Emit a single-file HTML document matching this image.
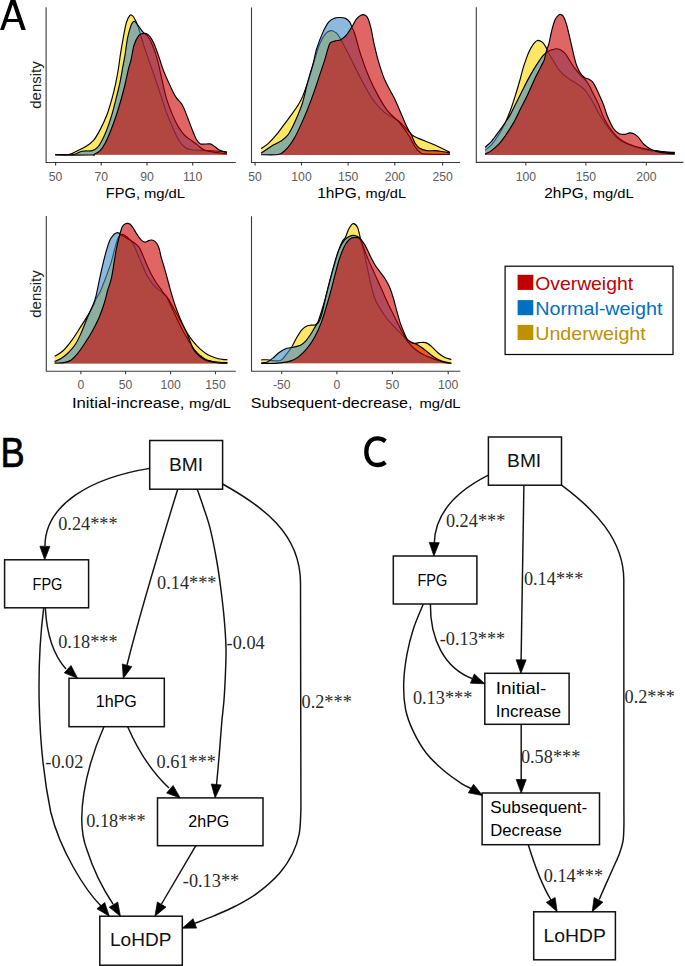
<!DOCTYPE html>
<html><head><meta charset="utf-8"><style>
html,body{margin:0;padding:0;background:#fff;}
svg{display:block}
text{font-family:"Liberation Sans",sans-serif;}
.tk{font-size:12.2px;fill:#5c5c5c;text-anchor:middle}
.xl{fill:#000}
.xa{font-size:15.2px}
.xb{font-size:12.3px}
.dn{font-size:15px;fill:#222}
.lg{font-size:18.5px}
.pl{font-size:42.5px;fill:#000}
.el{font-family:"Liberation Serif",serif;font-size:18.3px;fill:#2a2a2a}
.na{font-size:18.5px;fill:#111}
.nc{font-size:16.5px;fill:#000}
</style></head><body>
<svg width="685" height="966" viewBox="0 0 685 966">
<rect width="685" height="966" fill="#fff"/>
<path d="M55.18,154.45 C57.42,154.45 65.06,154.99 68.61,154.45 C72.17,153.92 73.63,152.55 76.50,151.24 C79.37,149.93 82.97,148.42 85.84,146.57 C88.71,144.72 91.34,142.97 93.72,140.15 C96.11,137.32 97.96,133.82 100.15,129.64 C102.34,125.45 104.87,120.29 106.86,115.04 C108.86,109.78 110.61,103.55 112.12,98.10 C113.63,92.65 114.84,87.40 115.91,82.34 C116.98,77.27 117.66,73.19 118.54,67.74 C119.42,62.29 119.90,57.03 121.17,49.64 C122.43,42.24 124.67,29.05 126.13,23.36 C127.59,17.66 128.81,16.69 129.93,15.47 C131.05,14.26 131.87,15.13 132.85,16.06 C133.82,16.98 134.89,19.22 135.77,21.02 C136.64,22.82 137.37,24.82 138.10,26.86 C138.83,28.91 139.27,30.41 140.15,33.28 C141.02,36.16 142.04,39.95 143.36,44.09 C144.67,48.22 146.23,52.90 148.03,58.10 C149.83,63.31 152.12,69.39 154.16,75.33 C156.20,81.27 158.25,87.54 160.29,93.72 C162.34,99.90 164.33,106.72 166.42,112.41 C168.52,118.10 170.75,123.21 172.85,127.88 C174.94,132.55 176.93,137.18 178.98,140.44 C181.02,143.70 183.02,145.89 185.11,147.45 C187.20,149.00 188.95,149.29 191.53,149.78 C194.11,150.27 196.64,150.17 200.58,150.36 C204.53,150.56 210.80,150.71 215.18,150.95 C219.56,151.19 224.91,151.68 226.86,151.82 L226.86,154.80 L55.18,154.80 Z" fill="rgb(255,215,0)" fill-opacity="0.6" stroke="none"/>
<path d="M55.18,154.45 C57.42,154.45 65.06,154.99 68.61,154.45 C72.17,153.92 73.63,152.55 76.50,151.24 C79.37,149.93 82.97,148.42 85.84,146.57 C88.71,144.72 91.34,142.97 93.72,140.15 C96.11,137.32 97.96,133.82 100.15,129.64 C102.34,125.45 104.87,120.29 106.86,115.04 C108.86,109.78 110.61,103.55 112.12,98.10 C113.63,92.65 114.84,87.40 115.91,82.34 C116.98,77.27 117.66,73.19 118.54,67.74 C119.42,62.29 119.90,57.03 121.17,49.64 C122.43,42.24 124.67,29.05 126.13,23.36 C127.59,17.66 128.81,16.69 129.93,15.47 C131.05,14.26 131.87,15.13 132.85,16.06 C133.82,16.98 134.89,19.22 135.77,21.02 C136.64,22.82 137.37,24.82 138.10,26.86 C138.83,28.91 139.27,30.41 140.15,33.28 C141.02,36.16 142.04,39.95 143.36,44.09 C144.67,48.22 146.23,52.90 148.03,58.10 C149.83,63.31 152.12,69.39 154.16,75.33 C156.20,81.27 158.25,87.54 160.29,93.72 C162.34,99.90 164.33,106.72 166.42,112.41 C168.52,118.10 170.75,123.21 172.85,127.88 C174.94,132.55 176.93,137.18 178.98,140.44 C181.02,143.70 183.02,145.89 185.11,147.45 C187.20,149.00 188.95,149.29 191.53,149.78 C194.11,150.27 196.64,150.17 200.58,150.36 C204.53,150.56 210.80,150.71 215.18,150.95 C219.56,151.19 224.91,151.68 226.86,151.82" fill="none" stroke="#000" stroke-width="1.15" stroke-linejoin="round"/>
<path d="M55.18,154.74 C58.30,154.70 69.44,155.04 73.87,154.45 C78.30,153.87 78.69,151.87 81.75,151.24 C84.82,150.61 89.64,151.29 92.26,150.66 C94.89,150.02 95.96,149.00 97.52,147.45 C99.08,145.89 100.05,144.28 101.61,141.31 C103.16,138.35 105.11,134.21 106.86,129.64 C108.61,125.06 110.61,118.93 112.12,113.87 C113.63,108.81 114.60,104.53 115.91,99.27 C117.23,94.01 118.88,87.59 120.00,82.34 C121.12,77.08 121.80,72.21 122.63,67.74 C123.45,63.26 124.14,60.44 124.96,55.47 C125.79,50.51 126.67,42.73 127.59,37.96 C128.52,33.19 129.64,29.49 130.51,26.86 C131.39,24.23 132.12,23.07 132.85,22.19 C133.58,21.31 133.82,20.78 134.89,21.61 C135.96,22.43 137.86,25.35 139.27,27.15 C140.68,28.95 141.90,30.85 143.36,32.41 C144.82,33.97 146.47,34.26 148.03,36.50 C149.59,38.73 151.14,42.00 152.70,45.84 C154.26,49.68 155.82,53.87 157.37,59.56 C158.93,65.26 160.54,73.53 162.04,80.00 C163.55,86.47 164.62,92.46 166.42,98.39 C168.22,104.33 170.75,110.71 172.85,115.62 C174.94,120.54 176.93,124.53 178.98,127.88 C181.02,131.24 183.02,133.67 185.11,135.77 C187.20,137.86 189.44,138.88 191.53,140.44 C193.63,142.00 195.62,143.55 197.66,145.11 C199.71,146.67 201.22,148.61 203.80,149.78 C206.37,150.95 209.29,151.44 213.14,152.12 C216.98,152.80 224.57,153.58 226.86,153.87 L226.86,154.80 L55.18,154.80 Z" fill="rgb(65,138,200)" fill-opacity="0.6" stroke="none"/>
<path d="M55.18,154.74 C58.30,154.70 69.44,155.04 73.87,154.45 C78.30,153.87 78.69,151.87 81.75,151.24 C84.82,150.61 89.64,151.29 92.26,150.66 C94.89,150.02 95.96,149.00 97.52,147.45 C99.08,145.89 100.05,144.28 101.61,141.31 C103.16,138.35 105.11,134.21 106.86,129.64 C108.61,125.06 110.61,118.93 112.12,113.87 C113.63,108.81 114.60,104.53 115.91,99.27 C117.23,94.01 118.88,87.59 120.00,82.34 C121.12,77.08 121.80,72.21 122.63,67.74 C123.45,63.26 124.14,60.44 124.96,55.47 C125.79,50.51 126.67,42.73 127.59,37.96 C128.52,33.19 129.64,29.49 130.51,26.86 C131.39,24.23 132.12,23.07 132.85,22.19 C133.58,21.31 133.82,20.78 134.89,21.61 C135.96,22.43 137.86,25.35 139.27,27.15 C140.68,28.95 141.90,30.85 143.36,32.41 C144.82,33.97 146.47,34.26 148.03,36.50 C149.59,38.73 151.14,42.00 152.70,45.84 C154.26,49.68 155.82,53.87 157.37,59.56 C158.93,65.26 160.54,73.53 162.04,80.00 C163.55,86.47 164.62,92.46 166.42,98.39 C168.22,104.33 170.75,110.71 172.85,115.62 C174.94,120.54 176.93,124.53 178.98,127.88 C181.02,131.24 183.02,133.67 185.11,135.77 C187.20,137.86 189.44,138.88 191.53,140.44 C193.63,142.00 195.62,143.55 197.66,145.11 C199.71,146.67 201.22,148.61 203.80,149.78 C206.37,150.95 209.29,151.44 213.14,152.12 C216.98,152.80 224.57,153.58 226.86,153.87" fill="none" stroke="#000" stroke-width="1.15" stroke-linejoin="round"/>
<path d="M55.18,155.04 C61.17,155.04 84.67,155.09 91.09,155.04 C97.52,154.99 92.21,155.47 93.72,154.74 C95.23,154.01 98.20,152.65 100.15,150.66 C102.09,148.66 103.65,146.08 105.40,142.77 C107.15,139.46 108.91,135.18 110.66,130.80 C112.41,126.42 114.16,121.75 115.91,116.50 C117.66,111.24 119.61,104.77 121.17,99.27 C122.73,93.77 124.04,88.56 125.26,83.50 C126.47,78.44 127.49,72.90 128.47,68.91 C129.44,64.91 130.17,63.50 131.09,59.56 C132.02,55.62 132.75,49.25 134.01,45.26 C135.28,41.27 137.27,37.57 138.69,35.62 C140.10,33.67 141.22,33.92 142.48,33.58 C143.75,33.24 144.96,32.99 146.28,33.58 C147.59,34.16 149.05,35.33 150.36,37.08 C151.68,38.83 152.75,40.83 154.16,44.09 C155.57,47.35 157.27,52.21 158.83,56.64 C160.39,61.07 161.70,65.99 163.50,70.66 C165.30,75.33 167.59,80.29 169.64,84.67 C171.68,89.05 173.67,93.58 175.77,96.93 C177.86,100.29 180.34,101.70 182.19,104.82 C184.04,107.93 185.30,111.78 186.86,115.62 C188.42,119.46 189.98,123.99 191.53,127.88 C193.09,131.78 194.70,136.30 196.20,138.98 C197.71,141.65 198.30,143.11 200.58,143.94 C202.87,144.77 207.59,143.50 209.93,143.94 C212.26,144.38 212.94,145.50 214.60,146.57 C216.25,147.64 217.81,149.34 219.85,150.36 C221.90,151.39 225.69,152.31 226.86,152.70 L226.86,154.80 L55.18,154.80 Z" fill="rgb(204,0,0)" fill-opacity="0.6" stroke="none"/>
<path d="M55.18,155.04 C61.17,155.04 84.67,155.09 91.09,155.04 C97.52,154.99 92.21,155.47 93.72,154.74 C95.23,154.01 98.20,152.65 100.15,150.66 C102.09,148.66 103.65,146.08 105.40,142.77 C107.15,139.46 108.91,135.18 110.66,130.80 C112.41,126.42 114.16,121.75 115.91,116.50 C117.66,111.24 119.61,104.77 121.17,99.27 C122.73,93.77 124.04,88.56 125.26,83.50 C126.47,78.44 127.49,72.90 128.47,68.91 C129.44,64.91 130.17,63.50 131.09,59.56 C132.02,55.62 132.75,49.25 134.01,45.26 C135.28,41.27 137.27,37.57 138.69,35.62 C140.10,33.67 141.22,33.92 142.48,33.58 C143.75,33.24 144.96,32.99 146.28,33.58 C147.59,34.16 149.05,35.33 150.36,37.08 C151.68,38.83 152.75,40.83 154.16,44.09 C155.57,47.35 157.27,52.21 158.83,56.64 C160.39,61.07 161.70,65.99 163.50,70.66 C165.30,75.33 167.59,80.29 169.64,84.67 C171.68,89.05 173.67,93.58 175.77,96.93 C177.86,100.29 180.34,101.70 182.19,104.82 C184.04,107.93 185.30,111.78 186.86,115.62 C188.42,119.46 189.98,123.99 191.53,127.88 C193.09,131.78 194.70,136.30 196.20,138.98 C197.71,141.65 198.30,143.11 200.58,143.94 C202.87,144.77 207.59,143.50 209.93,143.94 C212.26,144.38 212.94,145.50 214.60,146.57 C216.25,147.64 217.81,149.34 219.85,150.36 C221.90,151.39 225.69,152.31 226.86,152.70" fill="none" stroke="#000" stroke-width="1.15" stroke-linejoin="round"/>
<path d="M46.1,7.3 V162.5 H235.8" stroke="#3a3a3a" stroke-width="1.1" fill="none"/><path d="M55.6,162.5 v3" stroke="#3a3a3a" stroke-width="1.1" fill="none"/><text x="55.6" y="180.6" class="tk">50</text><path d="M101.2,162.5 v3" stroke="#3a3a3a" stroke-width="1.1" fill="none"/><text x="101.2" y="180.6" class="tk">70</text><path d="M147.0,162.5 v3" stroke="#3a3a3a" stroke-width="1.1" fill="none"/><text x="147.0" y="180.6" class="tk">90</text><path d="M192.7,162.5 v3" stroke="#3a3a3a" stroke-width="1.1" fill="none"/><text x="192.7" y="180.6" class="tk">110</text>
<path d="M261.09,148.61 C262.31,147.74 265.86,145.64 268.39,143.36 C270.92,141.07 273.65,138.05 276.28,134.89 C278.91,131.73 281.53,127.88 284.16,124.38 C286.79,120.88 289.66,117.18 292.04,113.87 C294.43,110.56 296.72,107.40 298.47,104.53 C300.22,101.65 301.24,99.66 302.55,96.64 C303.87,93.63 305.28,89.39 306.35,86.42 C307.42,83.45 307.76,82.77 308.98,78.83 C310.19,74.89 311.85,68.61 313.65,62.77 C315.45,56.93 317.79,48.66 319.78,43.80 C321.78,38.93 323.77,35.77 325.62,33.58 C327.47,31.39 329.32,30.90 330.88,30.66 C332.43,30.41 333.60,31.14 334.96,32.12 C336.33,33.09 336.67,32.60 339.05,36.50 C341.44,40.39 345.62,48.42 349.27,55.47 C352.92,62.53 357.06,71.53 360.95,78.83 C364.84,86.13 368.73,93.67 372.63,99.27 C376.52,104.87 379.98,108.81 384.31,112.41 C388.64,116.01 394.09,117.23 398.61,120.88 C403.14,124.53 408.15,131.39 411.46,134.31 C414.77,137.23 415.35,136.93 418.47,138.39 C421.58,139.85 426.45,141.51 430.15,143.07 C433.84,144.62 437.35,146.18 440.66,147.74 C443.97,149.29 448.44,151.63 450.00,152.41 L450.00,155.10 L261.09,155.10 Z" fill="rgb(255,215,0)" fill-opacity="0.6" stroke="none"/>
<path d="M261.09,148.61 C262.31,147.74 265.86,145.64 268.39,143.36 C270.92,141.07 273.65,138.05 276.28,134.89 C278.91,131.73 281.53,127.88 284.16,124.38 C286.79,120.88 289.66,117.18 292.04,113.87 C294.43,110.56 296.72,107.40 298.47,104.53 C300.22,101.65 301.24,99.66 302.55,96.64 C303.87,93.63 305.28,89.39 306.35,86.42 C307.42,83.45 307.76,82.77 308.98,78.83 C310.19,74.89 311.85,68.61 313.65,62.77 C315.45,56.93 317.79,48.66 319.78,43.80 C321.78,38.93 323.77,35.77 325.62,33.58 C327.47,31.39 329.32,30.90 330.88,30.66 C332.43,30.41 333.60,31.14 334.96,32.12 C336.33,33.09 336.67,32.60 339.05,36.50 C341.44,40.39 345.62,48.42 349.27,55.47 C352.92,62.53 357.06,71.53 360.95,78.83 C364.84,86.13 368.73,93.67 372.63,99.27 C376.52,104.87 379.98,108.81 384.31,112.41 C388.64,116.01 394.09,117.23 398.61,120.88 C403.14,124.53 408.15,131.39 411.46,134.31 C414.77,137.23 415.35,136.93 418.47,138.39 C421.58,139.85 426.45,141.51 430.15,143.07 C433.84,144.62 437.35,146.18 440.66,147.74 C443.97,149.29 448.44,151.63 450.00,152.41" fill="none" stroke="#000" stroke-width="1.15" stroke-linejoin="round"/>
<path d="M261.09,153.28 C262.07,152.60 264.84,150.61 266.93,149.20 C269.03,147.79 271.22,146.23 273.65,144.82 C276.08,143.41 279.15,142.38 281.53,140.73 C283.92,139.08 286.01,137.42 287.96,134.89 C289.90,132.36 291.56,128.86 293.21,125.55 C294.87,122.24 296.42,118.54 297.88,115.04 C299.34,111.53 300.75,108.22 301.97,104.53 C303.19,100.83 304.40,95.91 305.18,92.85 C305.96,89.78 305.86,89.20 306.64,86.13 C307.42,83.07 308.78,78.15 309.85,74.45 C310.92,70.75 311.90,68.32 313.07,63.94 C314.23,59.56 315.21,53.48 316.86,48.18 C318.52,42.87 321.00,36.50 322.99,32.12 C324.99,27.74 326.89,24.23 328.83,21.90 C330.78,19.56 332.82,18.83 334.67,18.10 C336.52,17.37 338.13,17.47 339.93,17.52 C341.73,17.57 343.87,17.66 345.47,18.39 C347.08,19.12 348.44,20.34 349.56,21.90 C350.68,23.45 351.27,25.55 352.19,27.74 C353.11,29.93 353.65,30.41 355.11,35.04 C356.57,39.66 358.52,48.18 360.95,55.47 C363.38,62.77 366.79,72.02 369.71,78.83 C372.63,85.64 375.55,91.09 378.47,96.35 C381.39,101.61 384.31,106.57 387.23,110.36 C390.15,114.16 393.70,116.79 395.99,119.12 C398.27,121.46 398.76,121.56 400.95,124.38 C403.14,127.20 406.79,132.36 409.12,136.06 C411.46,139.76 413.02,143.75 414.96,146.57 C416.91,149.39 418.86,151.73 420.80,152.99 C422.75,154.26 421.78,153.92 426.64,154.16 C431.51,154.40 446.11,154.40 450.00,154.45 L450.00,155.10 L261.09,155.10 Z" fill="rgb(65,138,200)" fill-opacity="0.6" stroke="none"/>
<path d="M261.09,153.28 C262.07,152.60 264.84,150.61 266.93,149.20 C269.03,147.79 271.22,146.23 273.65,144.82 C276.08,143.41 279.15,142.38 281.53,140.73 C283.92,139.08 286.01,137.42 287.96,134.89 C289.90,132.36 291.56,128.86 293.21,125.55 C294.87,122.24 296.42,118.54 297.88,115.04 C299.34,111.53 300.75,108.22 301.97,104.53 C303.19,100.83 304.40,95.91 305.18,92.85 C305.96,89.78 305.86,89.20 306.64,86.13 C307.42,83.07 308.78,78.15 309.85,74.45 C310.92,70.75 311.90,68.32 313.07,63.94 C314.23,59.56 315.21,53.48 316.86,48.18 C318.52,42.87 321.00,36.50 322.99,32.12 C324.99,27.74 326.89,24.23 328.83,21.90 C330.78,19.56 332.82,18.83 334.67,18.10 C336.52,17.37 338.13,17.47 339.93,17.52 C341.73,17.57 343.87,17.66 345.47,18.39 C347.08,19.12 348.44,20.34 349.56,21.90 C350.68,23.45 351.27,25.55 352.19,27.74 C353.11,29.93 353.65,30.41 355.11,35.04 C356.57,39.66 358.52,48.18 360.95,55.47 C363.38,62.77 366.79,72.02 369.71,78.83 C372.63,85.64 375.55,91.09 378.47,96.35 C381.39,101.61 384.31,106.57 387.23,110.36 C390.15,114.16 393.70,116.79 395.99,119.12 C398.27,121.46 398.76,121.56 400.95,124.38 C403.14,127.20 406.79,132.36 409.12,136.06 C411.46,139.76 413.02,143.75 414.96,146.57 C416.91,149.39 418.86,151.73 420.80,152.99 C422.75,154.26 421.78,153.92 426.64,154.16 C431.51,154.40 446.11,154.40 450.00,154.45" fill="none" stroke="#000" stroke-width="1.15" stroke-linejoin="round"/>
<path d="M261.09,154.74 C263.63,154.74 272.87,154.99 276.28,154.74 C279.68,154.50 279.59,154.50 281.53,153.28 C283.48,152.07 285.77,150.07 287.96,147.45 C290.15,144.82 292.48,141.36 294.67,137.52 C296.86,133.67 298.91,129.20 301.09,124.38 C303.28,119.56 305.62,114.11 307.81,108.61 C310.00,103.11 312.29,96.89 314.23,91.39 C316.18,85.89 317.74,80.88 319.49,75.62 C321.24,70.36 323.38,64.18 324.74,59.85 C326.11,55.52 326.74,52.46 327.66,49.64 C328.59,46.81 329.03,44.38 330.29,42.92 C331.56,41.46 333.50,41.41 335.26,40.88 C337.01,40.34 338.95,40.68 340.80,39.71 C342.65,38.73 344.45,37.27 346.35,35.04 C348.25,32.80 350.49,28.95 352.19,26.28 C353.89,23.60 355.11,20.83 356.57,18.98 C358.03,17.13 359.49,15.82 360.95,15.18 C362.41,14.55 364.11,14.55 365.33,15.18 C366.55,15.82 367.27,16.64 368.25,18.98 C369.22,21.31 370.19,25.06 371.17,29.20 C372.14,33.33 372.87,38.44 374.09,43.80 C375.30,49.15 376.76,55.47 378.47,61.31 C380.17,67.15 382.36,73.97 384.31,78.83 C386.25,83.70 388.35,87.01 390.15,90.51 C391.95,94.01 393.31,96.06 395.11,99.85 C396.91,103.65 399.00,108.81 400.95,113.28 C402.90,117.76 405.04,123.11 406.79,126.72 C408.54,130.32 410.10,132.17 411.46,134.89 C412.82,137.62 413.60,140.83 414.96,143.07 C416.33,145.30 417.69,147.06 419.64,148.32 C421.58,149.59 424.11,150.27 426.64,150.66 C429.17,151.05 432.48,150.56 434.82,150.66 C437.15,150.75 438.13,150.85 440.66,151.24 C443.19,151.63 448.44,152.70 450.00,152.99 L450.00,155.10 L261.09,155.10 Z" fill="rgb(204,0,0)" fill-opacity="0.6" stroke="none"/>
<path d="M261.09,154.74 C263.63,154.74 272.87,154.99 276.28,154.74 C279.68,154.50 279.59,154.50 281.53,153.28 C283.48,152.07 285.77,150.07 287.96,147.45 C290.15,144.82 292.48,141.36 294.67,137.52 C296.86,133.67 298.91,129.20 301.09,124.38 C303.28,119.56 305.62,114.11 307.81,108.61 C310.00,103.11 312.29,96.89 314.23,91.39 C316.18,85.89 317.74,80.88 319.49,75.62 C321.24,70.36 323.38,64.18 324.74,59.85 C326.11,55.52 326.74,52.46 327.66,49.64 C328.59,46.81 329.03,44.38 330.29,42.92 C331.56,41.46 333.50,41.41 335.26,40.88 C337.01,40.34 338.95,40.68 340.80,39.71 C342.65,38.73 344.45,37.27 346.35,35.04 C348.25,32.80 350.49,28.95 352.19,26.28 C353.89,23.60 355.11,20.83 356.57,18.98 C358.03,17.13 359.49,15.82 360.95,15.18 C362.41,14.55 364.11,14.55 365.33,15.18 C366.55,15.82 367.27,16.64 368.25,18.98 C369.22,21.31 370.19,25.06 371.17,29.20 C372.14,33.33 372.87,38.44 374.09,43.80 C375.30,49.15 376.76,55.47 378.47,61.31 C380.17,67.15 382.36,73.97 384.31,78.83 C386.25,83.70 388.35,87.01 390.15,90.51 C391.95,94.01 393.31,96.06 395.11,99.85 C396.91,103.65 399.00,108.81 400.95,113.28 C402.90,117.76 405.04,123.11 406.79,126.72 C408.54,130.32 410.10,132.17 411.46,134.89 C412.82,137.62 413.60,140.83 414.96,143.07 C416.33,145.30 417.69,147.06 419.64,148.32 C421.58,149.59 424.11,150.27 426.64,150.66 C429.17,151.05 432.48,150.56 434.82,150.66 C437.15,150.75 438.13,150.85 440.66,151.24 C443.19,151.63 448.44,152.70 450.00,152.99" fill="none" stroke="#000" stroke-width="1.15" stroke-linejoin="round"/>
<path d="M251.5,7.4 V162.5 H460.1" stroke="#3a3a3a" stroke-width="1.1" fill="none"/><path d="M255.1,162.5 v3" stroke="#3a3a3a" stroke-width="1.1" fill="none"/><text x="255.1" y="180.6" class="tk">50</text><path d="M301.5,162.5 v3" stroke="#3a3a3a" stroke-width="1.1" fill="none"/><text x="301.5" y="180.6" class="tk">100</text><path d="M348.1,162.5 v3" stroke="#3a3a3a" stroke-width="1.1" fill="none"/><text x="348.1" y="180.6" class="tk">150</text><path d="M394.8,162.5 v3" stroke="#3a3a3a" stroke-width="1.1" fill="none"/><text x="394.8" y="180.6" class="tk">200</text><path d="M442.6,162.5 v3" stroke="#3a3a3a" stroke-width="1.1" fill="none"/><text x="442.6" y="180.6" class="tk">250</text>
<path d="M485.00,150.36 C486.12,149.39 489.38,147.20 491.72,144.53 C494.05,141.85 496.73,138.00 499.01,134.31 C501.30,130.61 503.49,126.47 505.44,122.34 C507.38,118.20 509.09,113.82 510.69,109.49 C512.30,105.16 513.61,100.97 515.07,96.35 C516.53,91.73 518.14,86.37 519.45,81.75 C520.77,77.13 521.89,72.26 522.96,68.61 C524.03,64.96 524.90,62.58 525.88,59.85 C526.85,57.13 527.58,54.84 528.80,52.26 C530.01,49.68 531.86,46.28 533.18,44.38 C534.49,42.48 535.66,41.51 536.68,40.88 C537.70,40.24 538.28,40.29 539.31,40.58 C540.33,40.88 541.64,41.41 542.81,42.63 C543.98,43.84 545.44,46.28 546.31,47.88 C547.19,49.49 547.04,50.36 548.07,52.26 C549.09,54.16 550.84,56.64 552.45,59.27 C554.05,61.90 555.95,65.55 557.70,68.03 C559.45,70.51 560.91,72.26 562.96,74.16 C565.00,76.06 567.63,77.81 569.96,79.42 C572.30,81.02 574.64,82.19 576.97,83.80 C579.31,85.40 581.93,87.01 583.98,89.05 C586.02,91.09 587.48,93.38 589.23,96.06 C590.99,98.73 592.79,102.04 594.49,105.11 C596.19,108.18 597.26,110.80 599.45,114.45 C601.64,118.10 604.81,123.21 607.63,127.01 C610.45,130.80 613.47,134.55 616.39,137.23 C619.31,139.90 621.74,141.36 625.15,143.07 C628.55,144.77 632.93,146.23 636.82,147.45 C640.72,148.66 644.61,149.64 648.50,150.36 C652.40,151.09 655.80,151.48 660.18,151.82 C664.56,152.17 672.35,152.31 674.78,152.41 L674.78,155.00 L485.00,155.00 Z" fill="rgb(255,215,0)" fill-opacity="0.6" stroke="none"/>
<path d="M485.00,150.36 C486.12,149.39 489.38,147.20 491.72,144.53 C494.05,141.85 496.73,138.00 499.01,134.31 C501.30,130.61 503.49,126.47 505.44,122.34 C507.38,118.20 509.09,113.82 510.69,109.49 C512.30,105.16 513.61,100.97 515.07,96.35 C516.53,91.73 518.14,86.37 519.45,81.75 C520.77,77.13 521.89,72.26 522.96,68.61 C524.03,64.96 524.90,62.58 525.88,59.85 C526.85,57.13 527.58,54.84 528.80,52.26 C530.01,49.68 531.86,46.28 533.18,44.38 C534.49,42.48 535.66,41.51 536.68,40.88 C537.70,40.24 538.28,40.29 539.31,40.58 C540.33,40.88 541.64,41.41 542.81,42.63 C543.98,43.84 545.44,46.28 546.31,47.88 C547.19,49.49 547.04,50.36 548.07,52.26 C549.09,54.16 550.84,56.64 552.45,59.27 C554.05,61.90 555.95,65.55 557.70,68.03 C559.45,70.51 560.91,72.26 562.96,74.16 C565.00,76.06 567.63,77.81 569.96,79.42 C572.30,81.02 574.64,82.19 576.97,83.80 C579.31,85.40 581.93,87.01 583.98,89.05 C586.02,91.09 587.48,93.38 589.23,96.06 C590.99,98.73 592.79,102.04 594.49,105.11 C596.19,108.18 597.26,110.80 599.45,114.45 C601.64,118.10 604.81,123.21 607.63,127.01 C610.45,130.80 613.47,134.55 616.39,137.23 C619.31,139.90 621.74,141.36 625.15,143.07 C628.55,144.77 632.93,146.23 636.82,147.45 C640.72,148.66 644.61,149.64 648.50,150.36 C652.40,151.09 655.80,151.48 660.18,151.82 C664.56,152.17 672.35,152.31 674.78,152.41" fill="none" stroke="#000" stroke-width="1.15" stroke-linejoin="round"/>
<path d="M485.00,147.45 C486.12,146.37 489.38,143.70 491.72,141.02 C494.05,138.35 496.73,134.50 499.01,131.39 C501.30,128.27 503.49,125.26 505.44,122.34 C507.38,119.42 508.84,117.23 510.69,113.87 C512.54,110.51 514.59,106.08 516.53,102.19 C518.48,98.30 520.43,94.36 522.37,90.51 C524.32,86.67 526.27,82.73 528.21,79.12 C530.16,75.52 532.10,72.12 534.05,68.91 C536.00,65.69 538.28,62.19 539.89,59.85 C541.50,57.52 542.32,56.30 543.69,54.89 C545.05,53.48 546.61,52.26 548.07,51.39 C549.53,50.51 550.99,50.07 552.45,49.64 C553.91,49.20 555.36,48.66 556.82,48.76 C558.28,48.86 559.74,49.34 561.20,50.22 C562.66,51.09 564.12,52.21 565.58,54.01 C567.04,55.82 568.36,58.54 569.96,61.02 C571.57,63.50 573.47,66.57 575.22,68.91 C576.97,71.24 578.72,73.14 580.47,75.04 C582.23,76.93 584.27,78.54 585.73,80.29 C587.19,82.04 588.07,83.50 589.23,85.55 C590.40,87.59 591.57,90.22 592.74,92.55 C593.91,94.89 595.22,97.47 596.24,99.56 C597.26,101.65 597.46,101.75 598.87,105.11 C600.28,108.47 602.27,115.09 604.71,119.71 C607.14,124.33 610.55,129.34 613.47,132.85 C616.39,136.35 618.82,138.54 622.23,140.73 C625.63,142.92 629.53,144.53 633.91,145.99 C638.28,147.45 644.12,148.61 648.50,149.49 C652.88,150.36 655.80,150.66 660.18,151.24 C664.56,151.82 672.35,152.70 674.78,152.99 L674.78,155.00 L485.00,155.00 Z" fill="rgb(65,138,200)" fill-opacity="0.6" stroke="none"/>
<path d="M485.00,147.45 C486.12,146.37 489.38,143.70 491.72,141.02 C494.05,138.35 496.73,134.50 499.01,131.39 C501.30,128.27 503.49,125.26 505.44,122.34 C507.38,119.42 508.84,117.23 510.69,113.87 C512.54,110.51 514.59,106.08 516.53,102.19 C518.48,98.30 520.43,94.36 522.37,90.51 C524.32,86.67 526.27,82.73 528.21,79.12 C530.16,75.52 532.10,72.12 534.05,68.91 C536.00,65.69 538.28,62.19 539.89,59.85 C541.50,57.52 542.32,56.30 543.69,54.89 C545.05,53.48 546.61,52.26 548.07,51.39 C549.53,50.51 550.99,50.07 552.45,49.64 C553.91,49.20 555.36,48.66 556.82,48.76 C558.28,48.86 559.74,49.34 561.20,50.22 C562.66,51.09 564.12,52.21 565.58,54.01 C567.04,55.82 568.36,58.54 569.96,61.02 C571.57,63.50 573.47,66.57 575.22,68.91 C576.97,71.24 578.72,73.14 580.47,75.04 C582.23,76.93 584.27,78.54 585.73,80.29 C587.19,82.04 588.07,83.50 589.23,85.55 C590.40,87.59 591.57,90.22 592.74,92.55 C593.91,94.89 595.22,97.47 596.24,99.56 C597.26,101.65 597.46,101.75 598.87,105.11 C600.28,108.47 602.27,115.09 604.71,119.71 C607.14,124.33 610.55,129.34 613.47,132.85 C616.39,136.35 618.82,138.54 622.23,140.73 C625.63,142.92 629.53,144.53 633.91,145.99 C638.28,147.45 644.12,148.61 648.50,149.49 C652.88,150.36 655.80,150.66 660.18,151.24 C664.56,151.82 672.35,152.70 674.78,152.99" fill="none" stroke="#000" stroke-width="1.15" stroke-linejoin="round"/>
<path d="M485.00,154.16 C486.12,153.53 489.38,152.07 491.72,150.36 C494.05,148.66 496.58,146.62 499.01,143.94 C501.45,141.27 503.88,137.86 506.31,134.31 C508.75,130.75 511.18,127.01 513.61,122.63 C516.05,118.25 518.48,112.90 520.91,108.03 C523.35,103.16 525.78,98.54 528.21,93.43 C530.64,88.32 533.32,82.00 535.51,77.37 C537.70,72.75 539.89,68.61 541.35,65.69 C542.81,62.77 543.44,62.24 544.27,59.85 C545.10,57.47 545.54,54.11 546.31,51.39 C547.09,48.66 548.07,46.86 548.94,43.50 C549.82,40.15 550.55,35.18 551.57,31.24 C552.59,27.30 553.91,22.53 555.07,19.85 C556.24,17.18 557.55,16.06 558.58,15.18 C559.60,14.31 560.33,14.26 561.20,14.60 C562.08,14.94 562.96,15.62 563.83,17.23 C564.71,18.83 565.58,21.31 566.46,24.23 C567.34,27.15 568.21,31.09 569.09,34.74 C569.96,38.39 570.84,42.34 571.72,46.13 C572.59,49.93 573.47,54.16 574.34,57.52 C575.22,60.88 575.95,63.65 576.97,66.28 C577.99,68.91 579.16,71.39 580.47,73.28 C581.79,75.18 583.39,76.64 584.85,77.66 C586.31,78.69 587.92,78.69 589.23,79.42 C590.55,80.15 591.57,80.58 592.74,82.04 C593.91,83.50 595.07,85.84 596.24,88.18 C597.41,90.51 598.58,93.43 599.74,96.06 C600.91,98.69 601.93,100.49 603.25,103.94 C604.56,107.40 605.92,112.70 607.63,116.79 C609.33,120.88 611.52,125.64 613.47,128.47 C615.41,131.29 617.36,132.75 619.31,133.72 C621.25,134.70 623.44,134.45 625.15,134.31 C626.85,134.16 628.07,132.94 629.53,132.85 C630.99,132.75 632.45,132.99 633.91,133.72 C635.36,134.45 636.58,135.43 638.28,137.23 C639.99,139.03 641.93,142.48 644.12,144.53 C646.31,146.57 648.75,148.18 651.42,149.49 C654.10,150.80 656.29,151.68 660.18,152.41 C664.08,153.14 672.35,153.63 674.78,153.87 L674.78,155.00 L485.00,155.00 Z" fill="rgb(204,0,0)" fill-opacity="0.6" stroke="none"/>
<path d="M485.00,154.16 C486.12,153.53 489.38,152.07 491.72,150.36 C494.05,148.66 496.58,146.62 499.01,143.94 C501.45,141.27 503.88,137.86 506.31,134.31 C508.75,130.75 511.18,127.01 513.61,122.63 C516.05,118.25 518.48,112.90 520.91,108.03 C523.35,103.16 525.78,98.54 528.21,93.43 C530.64,88.32 533.32,82.00 535.51,77.37 C537.70,72.75 539.89,68.61 541.35,65.69 C542.81,62.77 543.44,62.24 544.27,59.85 C545.10,57.47 545.54,54.11 546.31,51.39 C547.09,48.66 548.07,46.86 548.94,43.50 C549.82,40.15 550.55,35.18 551.57,31.24 C552.59,27.30 553.91,22.53 555.07,19.85 C556.24,17.18 557.55,16.06 558.58,15.18 C559.60,14.31 560.33,14.26 561.20,14.60 C562.08,14.94 562.96,15.62 563.83,17.23 C564.71,18.83 565.58,21.31 566.46,24.23 C567.34,27.15 568.21,31.09 569.09,34.74 C569.96,38.39 570.84,42.34 571.72,46.13 C572.59,49.93 573.47,54.16 574.34,57.52 C575.22,60.88 575.95,63.65 576.97,66.28 C577.99,68.91 579.16,71.39 580.47,73.28 C581.79,75.18 583.39,76.64 584.85,77.66 C586.31,78.69 587.92,78.69 589.23,79.42 C590.55,80.15 591.57,80.58 592.74,82.04 C593.91,83.50 595.07,85.84 596.24,88.18 C597.41,90.51 598.58,93.43 599.74,96.06 C600.91,98.69 601.93,100.49 603.25,103.94 C604.56,107.40 605.92,112.70 607.63,116.79 C609.33,120.88 611.52,125.64 613.47,128.47 C615.41,131.29 617.36,132.75 619.31,133.72 C621.25,134.70 623.44,134.45 625.15,134.31 C626.85,134.16 628.07,132.94 629.53,132.85 C630.99,132.75 632.45,132.99 633.91,133.72 C635.36,134.45 636.58,135.43 638.28,137.23 C639.99,139.03 641.93,142.48 644.12,144.53 C646.31,146.57 648.75,148.18 651.42,149.49 C654.10,150.80 656.29,151.68 660.18,152.41 C664.08,153.14 672.35,153.63 674.78,153.87" fill="none" stroke="#000" stroke-width="1.15" stroke-linejoin="round"/>
<path d="M476.3,7.2 V162.4 H683.4" stroke="#3a3a3a" stroke-width="1.1" fill="none"/><path d="M525.8,162.4 v3" stroke="#3a3a3a" stroke-width="1.1" fill="none"/><text x="525.8" y="180.5" class="tk">100</text><path d="M585.9,162.4 v3" stroke="#3a3a3a" stroke-width="1.1" fill="none"/><text x="585.9" y="180.5" class="tk">150</text><path d="M646.3,162.4 v3" stroke="#3a3a3a" stroke-width="1.1" fill="none"/><text x="646.3" y="180.5" class="tk">200</text>
<path d="M54.60,356.24 C55.91,355.41 59.71,353.81 62.48,351.28 C65.26,348.75 68.32,344.95 71.24,341.06 C74.16,337.17 77.08,332.45 80.00,327.92 C82.92,323.39 86.57,317.55 88.76,313.91 C90.95,310.26 91.92,308.55 93.14,306.02 C94.36,303.49 94.94,301.01 96.06,298.72 C97.18,296.44 98.25,295.80 99.85,292.30 C101.46,288.80 103.84,282.57 105.69,277.70 C107.54,272.83 109.49,267.73 110.95,263.10 C112.41,258.48 113.38,253.86 114.45,249.96 C115.52,246.07 116.50,242.18 117.37,239.74 C118.25,237.31 118.73,236.24 119.71,235.36 C120.68,234.49 121.65,233.91 123.21,234.49 C124.77,235.07 127.35,237.26 129.05,238.87 C130.75,240.47 131.97,241.55 133.43,244.12 C134.89,246.70 136.35,250.94 137.81,254.34 C139.27,257.75 140.73,261.16 142.19,264.56 C143.65,267.97 144.87,271.62 146.57,274.78 C148.27,277.94 150.46,281.11 152.41,283.54 C154.36,285.97 156.30,287.68 158.25,289.38 C160.19,291.08 162.38,292.15 164.09,293.76 C165.79,295.36 166.42,295.75 168.47,299.01 C170.51,302.27 173.97,308.94 176.35,313.32 C178.73,317.70 180.83,321.79 182.77,325.29 C184.72,328.80 186.28,331.62 188.03,334.34 C189.78,337.07 191.29,339.21 193.28,341.64 C195.28,344.08 197.57,346.75 200.00,348.94 C202.43,351.13 205.26,353.27 207.88,354.78 C210.51,356.29 213.38,357.23 215.77,357.99 C218.15,358.75 220.24,359.04 222.19,359.34 C224.14,359.63 226.57,359.68 227.45,359.74 L227.45,363.50 L54.60,363.50 Z" fill="rgb(255,215,0)" fill-opacity="0.6" stroke="none"/>
<path d="M54.60,356.24 C55.91,355.41 59.71,353.81 62.48,351.28 C65.26,348.75 68.32,344.95 71.24,341.06 C74.16,337.17 77.08,332.45 80.00,327.92 C82.92,323.39 86.57,317.55 88.76,313.91 C90.95,310.26 91.92,308.55 93.14,306.02 C94.36,303.49 94.94,301.01 96.06,298.72 C97.18,296.44 98.25,295.80 99.85,292.30 C101.46,288.80 103.84,282.57 105.69,277.70 C107.54,272.83 109.49,267.73 110.95,263.10 C112.41,258.48 113.38,253.86 114.45,249.96 C115.52,246.07 116.50,242.18 117.37,239.74 C118.25,237.31 118.73,236.24 119.71,235.36 C120.68,234.49 121.65,233.91 123.21,234.49 C124.77,235.07 127.35,237.26 129.05,238.87 C130.75,240.47 131.97,241.55 133.43,244.12 C134.89,246.70 136.35,250.94 137.81,254.34 C139.27,257.75 140.73,261.16 142.19,264.56 C143.65,267.97 144.87,271.62 146.57,274.78 C148.27,277.94 150.46,281.11 152.41,283.54 C154.36,285.97 156.30,287.68 158.25,289.38 C160.19,291.08 162.38,292.15 164.09,293.76 C165.79,295.36 166.42,295.75 168.47,299.01 C170.51,302.27 173.97,308.94 176.35,313.32 C178.73,317.70 180.83,321.79 182.77,325.29 C184.72,328.80 186.28,331.62 188.03,334.34 C189.78,337.07 191.29,339.21 193.28,341.64 C195.28,344.08 197.57,346.75 200.00,348.94 C202.43,351.13 205.26,353.27 207.88,354.78 C210.51,356.29 213.38,357.23 215.77,357.99 C218.15,358.75 220.24,359.04 222.19,359.34 C224.14,359.63 226.57,359.68 227.45,359.74" fill="none" stroke="#000" stroke-width="1.15" stroke-linejoin="round"/>
<path d="M54.60,361.50 C55.67,361.01 58.73,360.04 61.02,358.58 C63.31,357.12 65.89,355.17 68.32,352.74 C70.75,350.30 73.43,347.38 75.62,343.98 C77.81,340.57 79.51,336.68 81.46,332.30 C83.41,327.92 85.35,322.32 87.30,317.70 C89.25,313.08 91.68,308.21 93.14,304.56 C94.60,300.91 94.94,300.28 96.06,295.80 C97.18,291.33 98.73,282.91 99.85,277.70 C100.97,272.49 101.65,269.18 102.77,264.56 C103.89,259.94 105.35,254.10 106.57,249.96 C107.79,245.83 108.86,242.32 110.07,239.74 C111.29,237.17 112.75,235.66 113.87,234.49 C114.99,233.32 115.96,232.98 116.79,232.74 C117.62,232.49 118.10,232.64 118.83,233.03 C119.56,233.42 120.05,234.34 121.17,235.07 C122.29,235.80 123.99,236.53 125.55,237.41 C127.10,238.28 128.95,239.36 130.51,240.33 C132.07,241.30 133.43,242.03 134.89,243.25 C136.35,244.46 137.81,245.29 139.27,247.63 C140.73,249.96 142.19,253.95 143.65,257.26 C145.11,260.57 146.57,264.32 148.03,267.48 C149.49,270.64 150.95,273.56 152.41,276.24 C153.87,278.92 155.33,281.35 156.79,283.54 C158.25,285.73 159.95,287.58 161.17,289.38 C162.38,291.18 163.11,292.98 164.09,294.34 C165.06,295.71 164.96,293.71 167.01,297.55 C169.05,301.40 173.72,311.91 176.35,317.41 C178.98,322.91 180.83,326.85 182.77,330.55 C184.72,334.25 186.03,336.34 188.03,339.60 C190.02,342.86 192.75,347.48 194.74,350.11 C196.74,352.74 198.25,353.83 200.00,355.36 C201.75,356.90 203.31,358.36 205.26,359.34 C207.20,360.31 209.29,360.72 211.68,361.20 C214.06,361.69 216.93,361.98 219.56,362.23 C222.19,362.47 226.13,362.59 227.45,362.66 L227.45,363.50 L54.60,363.50 Z" fill="rgb(65,138,200)" fill-opacity="0.6" stroke="none"/>
<path d="M54.60,361.50 C55.67,361.01 58.73,360.04 61.02,358.58 C63.31,357.12 65.89,355.17 68.32,352.74 C70.75,350.30 73.43,347.38 75.62,343.98 C77.81,340.57 79.51,336.68 81.46,332.30 C83.41,327.92 85.35,322.32 87.30,317.70 C89.25,313.08 91.68,308.21 93.14,304.56 C94.60,300.91 94.94,300.28 96.06,295.80 C97.18,291.33 98.73,282.91 99.85,277.70 C100.97,272.49 101.65,269.18 102.77,264.56 C103.89,259.94 105.35,254.10 106.57,249.96 C107.79,245.83 108.86,242.32 110.07,239.74 C111.29,237.17 112.75,235.66 113.87,234.49 C114.99,233.32 115.96,232.98 116.79,232.74 C117.62,232.49 118.10,232.64 118.83,233.03 C119.56,233.42 120.05,234.34 121.17,235.07 C122.29,235.80 123.99,236.53 125.55,237.41 C127.10,238.28 128.95,239.36 130.51,240.33 C132.07,241.30 133.43,242.03 134.89,243.25 C136.35,244.46 137.81,245.29 139.27,247.63 C140.73,249.96 142.19,253.95 143.65,257.26 C145.11,260.57 146.57,264.32 148.03,267.48 C149.49,270.64 150.95,273.56 152.41,276.24 C153.87,278.92 155.33,281.35 156.79,283.54 C158.25,285.73 159.95,287.58 161.17,289.38 C162.38,291.18 163.11,292.98 164.09,294.34 C165.06,295.71 164.96,293.71 167.01,297.55 C169.05,301.40 173.72,311.91 176.35,317.41 C178.98,322.91 180.83,326.85 182.77,330.55 C184.72,334.25 186.03,336.34 188.03,339.60 C190.02,342.86 192.75,347.48 194.74,350.11 C196.74,352.74 198.25,353.83 200.00,355.36 C201.75,356.90 203.31,358.36 205.26,359.34 C207.20,360.31 209.29,360.72 211.68,361.20 C214.06,361.69 216.93,361.98 219.56,362.23 C222.19,362.47 226.13,362.59 227.45,362.66" fill="none" stroke="#000" stroke-width="1.15" stroke-linejoin="round"/>
<path d="M54.60,362.96 C56.16,362.91 61.17,363.15 63.94,362.66 C66.72,362.18 69.05,361.45 71.24,360.04 C73.43,358.63 74.89,356.87 77.08,354.20 C79.27,351.52 81.95,347.63 84.38,343.98 C86.81,340.33 89.25,336.68 91.68,332.30 C94.11,327.92 97.03,322.08 98.98,317.70 C100.92,313.32 102.14,309.67 103.36,306.02 C104.57,302.37 105.55,298.48 106.28,295.80 C107.01,293.13 106.86,292.98 107.74,289.96 C108.61,286.95 110.17,284.12 111.53,277.70 C112.90,271.28 114.70,257.99 115.91,251.42 C117.13,244.85 117.86,242.18 118.83,238.28 C119.81,234.39 120.88,230.35 121.75,228.07 C122.63,225.78 123.21,225.34 124.09,224.56 C124.96,223.78 126.03,223.49 127.01,223.39 C127.98,223.30 128.95,223.30 129.93,223.98 C130.90,224.66 131.78,225.92 132.85,227.48 C133.92,229.04 135.28,231.62 136.35,233.32 C137.42,235.02 138.30,236.44 139.27,237.70 C140.24,238.97 141.22,240.18 142.19,240.91 C143.16,241.64 144.14,242.08 145.11,242.08 C146.08,242.08 147.06,241.25 148.03,240.91 C149.00,240.57 149.98,240.09 150.95,240.04 C151.92,239.99 152.90,240.04 153.87,240.62 C154.84,241.20 155.91,242.23 156.79,243.54 C157.66,244.85 158.39,246.22 159.12,248.50 C159.85,250.79 160.19,253.71 161.17,257.26 C162.14,260.82 163.55,264.85 164.96,269.82 C166.37,274.78 168.08,281.55 169.64,287.04 C171.19,292.54 172.55,297.55 174.31,302.81 C176.06,308.07 178.05,313.52 180.15,318.58 C182.24,323.64 185.30,329.67 186.86,333.18 C188.42,336.68 188.42,336.97 189.49,339.60 C190.56,342.23 191.78,346.31 193.28,348.94 C194.79,351.57 196.55,353.52 198.54,355.36 C200.54,357.21 203.07,358.94 205.26,360.04 C207.45,361.14 209.49,361.48 211.68,361.96 C213.87,362.45 215.77,362.74 218.39,362.96 C221.02,363.17 225.94,363.20 227.45,363.25 L227.45,363.50 L54.60,363.50 Z" fill="rgb(204,0,0)" fill-opacity="0.6" stroke="none"/>
<path d="M54.60,362.96 C56.16,362.91 61.17,363.15 63.94,362.66 C66.72,362.18 69.05,361.45 71.24,360.04 C73.43,358.63 74.89,356.87 77.08,354.20 C79.27,351.52 81.95,347.63 84.38,343.98 C86.81,340.33 89.25,336.68 91.68,332.30 C94.11,327.92 97.03,322.08 98.98,317.70 C100.92,313.32 102.14,309.67 103.36,306.02 C104.57,302.37 105.55,298.48 106.28,295.80 C107.01,293.13 106.86,292.98 107.74,289.96 C108.61,286.95 110.17,284.12 111.53,277.70 C112.90,271.28 114.70,257.99 115.91,251.42 C117.13,244.85 117.86,242.18 118.83,238.28 C119.81,234.39 120.88,230.35 121.75,228.07 C122.63,225.78 123.21,225.34 124.09,224.56 C124.96,223.78 126.03,223.49 127.01,223.39 C127.98,223.30 128.95,223.30 129.93,223.98 C130.90,224.66 131.78,225.92 132.85,227.48 C133.92,229.04 135.28,231.62 136.35,233.32 C137.42,235.02 138.30,236.44 139.27,237.70 C140.24,238.97 141.22,240.18 142.19,240.91 C143.16,241.64 144.14,242.08 145.11,242.08 C146.08,242.08 147.06,241.25 148.03,240.91 C149.00,240.57 149.98,240.09 150.95,240.04 C151.92,239.99 152.90,240.04 153.87,240.62 C154.84,241.20 155.91,242.23 156.79,243.54 C157.66,244.85 158.39,246.22 159.12,248.50 C159.85,250.79 160.19,253.71 161.17,257.26 C162.14,260.82 163.55,264.85 164.96,269.82 C166.37,274.78 168.08,281.55 169.64,287.04 C171.19,292.54 172.55,297.55 174.31,302.81 C176.06,308.07 178.05,313.52 180.15,318.58 C182.24,323.64 185.30,329.67 186.86,333.18 C188.42,336.68 188.42,336.97 189.49,339.60 C190.56,342.23 191.78,346.31 193.28,348.94 C194.79,351.57 196.55,353.52 198.54,355.36 C200.54,357.21 203.07,358.94 205.26,360.04 C207.45,361.14 209.49,361.48 211.68,361.96 C213.87,362.45 215.77,362.74 218.39,362.96 C221.02,363.17 225.94,363.20 227.45,363.25" fill="none" stroke="#000" stroke-width="1.15" stroke-linejoin="round"/>
<path d="M46.3,216.0 V371.3 H235.8" stroke="#3a3a3a" stroke-width="1.1" fill="none"/><path d="M80.9,371.3 v3" stroke="#3a3a3a" stroke-width="1.1" fill="none"/><text x="80.9" y="389.4" class="tk">0</text><path d="M125.6,371.3 v3" stroke="#3a3a3a" stroke-width="1.1" fill="none"/><text x="125.6" y="389.4" class="tk">50</text><path d="M170.6,371.3 v3" stroke="#3a3a3a" stroke-width="1.1" fill="none"/><text x="170.6" y="389.4" class="tk">100</text><path d="M215.5,371.3 v3" stroke="#3a3a3a" stroke-width="1.1" fill="none"/><text x="215.5" y="389.4" class="tk">150</text>
<path d="M261.24,359.80 C262.26,359.80 265.15,359.64 267.34,359.80 C269.54,359.96 272.11,360.71 274.41,360.77 C276.71,360.82 279.01,361.41 281.15,360.12 C283.29,358.84 285.49,355.25 287.26,353.06 C289.02,350.86 290.15,349.58 291.75,346.96 C293.36,344.33 295.28,340.10 296.89,337.32 C298.50,334.54 299.89,332.08 301.39,330.26 C302.89,328.44 304.28,327.26 305.88,326.40 C307.49,325.55 309.42,325.38 311.02,325.12 C312.63,324.85 314.34,325.38 315.52,324.80 C316.70,324.21 317.07,323.89 318.09,321.58 C319.10,319.28 320.44,314.79 321.62,310.99 C322.80,307.18 323.71,304.03 325.15,298.78 C326.60,293.54 328.69,285.35 330.29,279.51 C331.90,273.68 333.34,268.75 334.79,263.77 C336.23,258.80 337.68,253.44 338.96,249.64 C340.25,245.84 341.43,243.00 342.50,240.97 C343.57,238.94 344.32,239.47 345.39,237.44 C346.46,235.40 347.64,231.07 348.92,228.77 C350.20,226.46 351.65,223.84 353.09,223.63 C354.54,223.41 356.41,225.18 357.59,227.48 C358.77,229.78 358.98,232.83 360.16,237.44 C361.34,242.04 363.05,248.09 364.66,255.10 C366.26,262.11 368.08,272.23 369.80,279.51 C371.51,286.79 372.58,292.95 374.93,298.78 C377.29,304.62 380.98,310.13 383.93,314.52 C386.87,318.91 389.71,321.91 392.60,325.12 C395.49,328.33 398.91,331.33 401.27,333.79 C403.63,336.25 404.70,338.28 406.73,339.89 C408.76,341.50 411.44,342.97 413.47,343.42 C415.51,343.88 416.90,342.75 418.93,342.62 C420.97,342.49 423.64,342.03 425.68,342.62 C427.71,343.21 429.05,344.41 431.14,346.15 C433.23,347.89 435.90,351.16 438.20,353.06 C440.51,354.96 442.75,356.48 444.95,357.55 C447.14,358.63 450.30,359.16 451.37,359.48 L451.37,363.30 L261.24,363.30 Z" fill="rgb(255,215,0)" fill-opacity="0.6" stroke="none"/>
<path d="M261.24,359.80 C262.26,359.80 265.15,359.64 267.34,359.80 C269.54,359.96 272.11,360.71 274.41,360.77 C276.71,360.82 279.01,361.41 281.15,360.12 C283.29,358.84 285.49,355.25 287.26,353.06 C289.02,350.86 290.15,349.58 291.75,346.96 C293.36,344.33 295.28,340.10 296.89,337.32 C298.50,334.54 299.89,332.08 301.39,330.26 C302.89,328.44 304.28,327.26 305.88,326.40 C307.49,325.55 309.42,325.38 311.02,325.12 C312.63,324.85 314.34,325.38 315.52,324.80 C316.70,324.21 317.07,323.89 318.09,321.58 C319.10,319.28 320.44,314.79 321.62,310.99 C322.80,307.18 323.71,304.03 325.15,298.78 C326.60,293.54 328.69,285.35 330.29,279.51 C331.90,273.68 333.34,268.75 334.79,263.77 C336.23,258.80 337.68,253.44 338.96,249.64 C340.25,245.84 341.43,243.00 342.50,240.97 C343.57,238.94 344.32,239.47 345.39,237.44 C346.46,235.40 347.64,231.07 348.92,228.77 C350.20,226.46 351.65,223.84 353.09,223.63 C354.54,223.41 356.41,225.18 357.59,227.48 C358.77,229.78 358.98,232.83 360.16,237.44 C361.34,242.04 363.05,248.09 364.66,255.10 C366.26,262.11 368.08,272.23 369.80,279.51 C371.51,286.79 372.58,292.95 374.93,298.78 C377.29,304.62 380.98,310.13 383.93,314.52 C386.87,318.91 389.71,321.91 392.60,325.12 C395.49,328.33 398.91,331.33 401.27,333.79 C403.63,336.25 404.70,338.28 406.73,339.89 C408.76,341.50 411.44,342.97 413.47,343.42 C415.51,343.88 416.90,342.75 418.93,342.62 C420.97,342.49 423.64,342.03 425.68,342.62 C427.71,343.21 429.05,344.41 431.14,346.15 C433.23,347.89 435.90,351.16 438.20,353.06 C440.51,354.96 442.75,356.48 444.95,357.55 C447.14,358.63 450.30,359.16 451.37,359.48" fill="none" stroke="#000" stroke-width="1.15" stroke-linejoin="round"/>
<path d="M261.24,363.01 C262.26,362.83 265.47,362.69 267.34,361.92 C269.22,361.15 270.45,360.00 272.48,358.39 C274.52,356.78 277.35,353.86 279.55,352.26 C281.74,350.65 283.62,349.54 285.65,348.75 C287.68,347.97 289.29,348.12 291.75,347.53 C294.21,346.95 298.07,346.37 300.42,345.25 C302.78,344.14 304.12,342.76 305.88,340.85 C307.65,338.94 309.31,336.41 311.02,333.79 C312.73,331.17 314.82,327.15 316.16,325.12 C317.50,323.08 317.98,323.94 319.05,321.58 C320.12,319.23 321.46,315.05 322.58,310.99 C323.71,306.92 324.56,302.31 325.80,297.18 C327.03,292.04 328.58,285.61 329.97,280.15 C331.36,274.69 332.70,269.39 334.15,264.42 C335.59,259.44 336.93,254.33 338.64,250.28 C340.36,246.24 342.60,242.49 344.42,240.14 C346.24,237.78 347.85,236.92 349.56,236.15 C351.27,235.38 353.09,235.24 354.70,235.51 C356.31,235.78 358.02,236.53 359.20,237.76 C360.37,238.99 360.32,239.42 361.77,242.90 C363.21,246.38 365.67,253.39 367.87,258.64 C370.06,263.88 372.58,269.13 374.93,274.37 C377.29,279.62 379.64,284.86 382.00,290.11 C384.36,295.36 386.71,300.87 389.07,305.85 C391.42,310.82 393.78,315.32 396.13,319.98 C398.49,324.64 401.16,330.04 403.20,333.79 C405.23,337.54 406.30,339.84 408.34,342.46 C410.37,345.08 412.78,347.44 415.40,349.53 C418.02,351.61 420.86,353.38 424.07,354.99 C427.28,356.59 431.19,357.88 434.67,359.16 C438.15,360.45 442.17,362.05 444.95,362.69 C447.73,363.34 450.30,362.96 451.37,363.01 L451.37,363.30 L261.24,363.30 Z" fill="rgb(65,138,200)" fill-opacity="0.6" stroke="none"/>
<path d="M261.24,363.01 C262.26,362.83 265.47,362.69 267.34,361.92 C269.22,361.15 270.45,360.00 272.48,358.39 C274.52,356.78 277.35,353.86 279.55,352.26 C281.74,350.65 283.62,349.54 285.65,348.75 C287.68,347.97 289.29,348.12 291.75,347.53 C294.21,346.95 298.07,346.37 300.42,345.25 C302.78,344.14 304.12,342.76 305.88,340.85 C307.65,338.94 309.31,336.41 311.02,333.79 C312.73,331.17 314.82,327.15 316.16,325.12 C317.50,323.08 317.98,323.94 319.05,321.58 C320.12,319.23 321.46,315.05 322.58,310.99 C323.71,306.92 324.56,302.31 325.80,297.18 C327.03,292.04 328.58,285.61 329.97,280.15 C331.36,274.69 332.70,269.39 334.15,264.42 C335.59,259.44 336.93,254.33 338.64,250.28 C340.36,246.24 342.60,242.49 344.42,240.14 C346.24,237.78 347.85,236.92 349.56,236.15 C351.27,235.38 353.09,235.24 354.70,235.51 C356.31,235.78 358.02,236.53 359.20,237.76 C360.37,238.99 360.32,239.42 361.77,242.90 C363.21,246.38 365.67,253.39 367.87,258.64 C370.06,263.88 372.58,269.13 374.93,274.37 C377.29,279.62 379.64,284.86 382.00,290.11 C384.36,295.36 386.71,300.87 389.07,305.85 C391.42,310.82 393.78,315.32 396.13,319.98 C398.49,324.64 401.16,330.04 403.20,333.79 C405.23,337.54 406.30,339.84 408.34,342.46 C410.37,345.08 412.78,347.44 415.40,349.53 C418.02,351.61 420.86,353.38 424.07,354.99 C427.28,356.59 431.19,357.88 434.67,359.16 C438.15,360.45 442.17,362.05 444.95,362.69 C447.73,363.34 450.30,362.96 451.37,363.01" fill="none" stroke="#000" stroke-width="1.15" stroke-linejoin="round"/>
<path d="M261.24,363.34 C263.70,363.34 271.20,363.71 276.01,363.34 C280.83,362.96 286.35,362.21 290.15,361.09 C293.95,359.96 295.93,358.79 298.82,356.59 C301.71,354.40 304.87,351.13 307.49,347.92 C310.11,344.71 312.20,341.71 314.55,337.32 C316.91,332.93 319.27,328.01 321.62,321.58 C323.98,315.16 326.65,305.79 328.69,298.78 C330.72,291.77 332.11,285.93 333.82,279.51 C335.54,273.09 337.20,265.78 338.96,260.24 C340.73,254.70 342.66,249.77 344.42,246.27 C346.19,242.77 347.85,240.74 349.56,239.27 C351.27,237.80 352.93,237.53 354.70,237.44 C356.47,237.35 358.45,237.44 360.16,238.72 C361.87,240.01 363.37,242.42 364.98,245.15 C366.58,247.88 368.14,251.84 369.80,255.10 C371.45,258.37 373.17,261.85 374.93,264.74 C376.70,267.63 378.63,269.98 380.39,272.45 C382.16,274.91 383.93,276.89 385.53,279.51 C387.14,282.13 388.69,284.97 390.03,288.18 C391.37,291.39 392.44,294.98 393.56,298.78 C394.69,302.58 395.65,306.92 396.77,310.99 C397.90,315.05 399.13,319.66 400.31,323.19 C401.48,326.72 402.66,329.51 403.84,332.18 C405.02,334.86 406.03,337.54 407.37,339.25 C408.71,340.96 410.26,341.60 411.87,342.46 C413.47,343.32 415.24,343.48 417.01,344.39 C418.77,345.30 420.70,346.64 422.47,347.92 C424.23,349.20 425.57,350.49 427.61,352.09 C429.64,353.70 432.32,356.06 434.67,357.55 C437.03,359.05 439.44,360.23 441.74,361.09 C444.04,361.94 446.88,362.32 448.48,362.69 C450.09,363.07 450.89,363.23 451.37,363.34 L451.37,363.30 L261.24,363.30 Z" fill="rgb(204,0,0)" fill-opacity="0.6" stroke="none"/>
<path d="M261.24,363.34 C263.70,363.34 271.20,363.71 276.01,363.34 C280.83,362.96 286.35,362.21 290.15,361.09 C293.95,359.96 295.93,358.79 298.82,356.59 C301.71,354.40 304.87,351.13 307.49,347.92 C310.11,344.71 312.20,341.71 314.55,337.32 C316.91,332.93 319.27,328.01 321.62,321.58 C323.98,315.16 326.65,305.79 328.69,298.78 C330.72,291.77 332.11,285.93 333.82,279.51 C335.54,273.09 337.20,265.78 338.96,260.24 C340.73,254.70 342.66,249.77 344.42,246.27 C346.19,242.77 347.85,240.74 349.56,239.27 C351.27,237.80 352.93,237.53 354.70,237.44 C356.47,237.35 358.45,237.44 360.16,238.72 C361.87,240.01 363.37,242.42 364.98,245.15 C366.58,247.88 368.14,251.84 369.80,255.10 C371.45,258.37 373.17,261.85 374.93,264.74 C376.70,267.63 378.63,269.98 380.39,272.45 C382.16,274.91 383.93,276.89 385.53,279.51 C387.14,282.13 388.69,284.97 390.03,288.18 C391.37,291.39 392.44,294.98 393.56,298.78 C394.69,302.58 395.65,306.92 396.77,310.99 C397.90,315.05 399.13,319.66 400.31,323.19 C401.48,326.72 402.66,329.51 403.84,332.18 C405.02,334.86 406.03,337.54 407.37,339.25 C408.71,340.96 410.26,341.60 411.87,342.46 C413.47,343.32 415.24,343.48 417.01,344.39 C418.77,345.30 420.70,346.64 422.47,347.92 C424.23,349.20 425.57,350.49 427.61,352.09 C429.64,353.70 432.32,356.06 434.67,357.55 C437.03,359.05 439.44,360.23 441.74,361.09 C444.04,361.94 446.88,362.32 448.48,362.69 C450.09,363.07 450.89,363.23 451.37,363.34" fill="none" stroke="#000" stroke-width="1.15" stroke-linejoin="round"/>
<path d="M251.5,216.2 V371.3 H460.4" stroke="#3a3a3a" stroke-width="1.1" fill="none"/><path d="M281.7,371.3 v3" stroke="#3a3a3a" stroke-width="1.1" fill="none"/><text x="281.7" y="389.4" class="tk">-50</text><path d="M336.9,371.3 v3" stroke="#3a3a3a" stroke-width="1.1" fill="none"/><text x="336.9" y="389.4" class="tk">0</text><path d="M392.4,371.3 v3" stroke="#3a3a3a" stroke-width="1.1" fill="none"/><text x="392.4" y="389.4" class="tk">50</text><path d="M448.2,371.3 v3" stroke="#3a3a3a" stroke-width="1.1" fill="none"/><text x="448.2" y="389.4" class="tk">100</text>
<text x="105.8" y="197.6" textLength="34.2" lengthAdjust="spacingAndGlyphs" class="xl xa">FPG,</text><text x="143.9" y="197.6" textLength="41.2" lengthAdjust="spacingAndGlyphs" class="xl xb">mg/dL</text>
<text x="317.2" y="197.7" textLength="43.8" lengthAdjust="spacingAndGlyphs" class="xl xa">1hPG,</text><text x="365.6" y="197.7" textLength="40.4" lengthAdjust="spacingAndGlyphs" class="xl xb">mg/dL</text>
<text x="544.3" y="197.6" textLength="43.7" lengthAdjust="spacingAndGlyphs" class="xl xa">2hPG,</text><text x="592.7" y="197.6" textLength="41.1" lengthAdjust="spacingAndGlyphs" class="xl xb">mg/dL</text>
<text x="71.9" y="407.9" textLength="112.5" lengthAdjust="spacingAndGlyphs" class="xl xa">Initial-increase,</text><text x="189.1" y="407.9" textLength="41.9" lengthAdjust="spacingAndGlyphs" class="xl xb">mg/dL</text>
<text x="250.8" y="408.0" textLength="161.7" lengthAdjust="spacingAndGlyphs" class="xl xa">Subsequent-decrease,</text><text x="419.5" y="408.0" textLength="41.1" lengthAdjust="spacingAndGlyphs" class="xl xb">mg/dL</text>
<text transform="translate(40.9,85) rotate(-90)" text-anchor="middle" class="dn">density</text>
<text transform="translate(40.9,294) rotate(-90)" text-anchor="middle" class="dn">density</text>
<rect x="505.1" y="266.2" width="167.9" height="88.3" fill="#fff" stroke="#000" stroke-width="1.2"/>
<rect x="517.6" y="274.8" width="15.7" height="15.1" fill="#C00000"/>
<text x="535.2" y="290.0" class="lg" fill="#C00000" textLength="97.9" lengthAdjust="spacingAndGlyphs">Overweight</text>
<rect x="517.6" y="300.1" width="15.7" height="15.1" fill="#0070C0"/>
<text x="535.2" y="315.3" class="lg" fill="#0070C0" textLength="127.2" lengthAdjust="spacingAndGlyphs">Normal-weight</text>
<rect x="517.6" y="324.9" width="15.7" height="15.1" fill="#BF9000"/>
<text x="535.2" y="340.1" class="lg" fill="#BF9000" textLength="110.6" lengthAdjust="spacingAndGlyphs">Underweight</text>
<path d="M0,29.9 L10.5,0 L15.5,0 L25.8,29.9 L21.4,29.9 L18.7,21.9 L6.9,21.9 L3.9,29.9 Z M12.8,4.6 L17.6,19 L7.8,19 Z" fill="#000" fill-rule="evenodd"/>
<text x="0.4" y="466.7" class="pl" transform="translate(0,0)" stroke="#000" stroke-width="0.7" textLength="24.2" lengthAdjust="spacingAndGlyphs">B</text>
<path d="M385.4,441.2 C383,439.3 380.5,438.4 377.5,438.4 C370.5,438.4 366.3,444 366.3,451.7 C366.3,459.4 370.5,465 377.5,465 C380.5,465 383,464.1 385.4,462.2" fill="none" stroke="#000" stroke-width="4.3"/>
<rect x="149.7" y="440.5" width="72.9" height="48.7" fill="#fff" stroke="#111" stroke-width="1.5"/>
<rect x="4.6" y="559.8" width="84.0" height="48.0" fill="#fff" stroke="#111" stroke-width="1.5"/>
<rect x="69.0" y="678.3" width="95.3" height="48.4" fill="#fff" stroke="#111" stroke-width="1.5"/>
<rect x="157.5" y="797.9" width="105.5" height="47.8" fill="#fff" stroke="#111" stroke-width="1.5"/>
<rect x="99.8" y="916.2" width="82.5" height="49.0" fill="#fff" stroke="#111" stroke-width="1.5"/>
<text x="169.0" y="470.7" textLength="34.1" lengthAdjust="spacingAndGlyphs" class="na">BMI</text>
<text x="32.6" y="590.2" textLength="29.8" lengthAdjust="spacingAndGlyphs" class="nc">FPG</text>
<text x="95.8" y="706.9" textLength="41.0" lengthAdjust="spacingAndGlyphs" class="nc">1hPG</text>
<text x="188.3" y="827.3" textLength="41.0" lengthAdjust="spacingAndGlyphs" class="nc">2hPG</text>
<text x="110.0" y="946.4" textLength="61.5" lengthAdjust="spacingAndGlyphs" class="na">LoHDP</text>
<path d="M149.7,468.4 C90,478 45,505 45,546" fill="none" stroke="#111" stroke-width="1.45"/>
<path d="M44.70,559.80 L39.91,546.23 L49.90,546.38 Z" fill="#000" stroke="#000" stroke-width="0.7"/>
<path d="M45.3,607.8 C47,640 56,658 66,669" fill="none" stroke="#111" stroke-width="1.45"/>
<path d="M77.60,678.30 L64.27,672.86 L71.03,665.49 Z" fill="#000" stroke="#000" stroke-width="0.7"/>
<path d="M177.7,489.2 C163,537 137,625 127,665" fill="none" stroke="#111" stroke-width="1.45"/>
<path d="M123.30,678.30 L122.30,663.94 L131.90,666.75 Z" fill="#000" stroke="#000" stroke-width="0.7"/>
<path d="M197.20,489.20 C198.20,492.08 201.05,499.97 203.20,506.50 C205.35,513.03 207.87,519.48 210.10,528.40 C212.33,537.32 214.78,549.73 216.60,560.00 C218.42,570.27 219.72,580.00 221.00,590.00 C222.28,600.00 223.47,610.33 224.30,620.00 C225.13,629.67 225.80,639.33 226.00,648.00 C226.20,656.67 225.83,663.33 225.50,672.00 C225.17,680.67 224.63,691.50 224.00,700.00 C223.37,708.50 222.50,713.83 221.70,723.00 C220.90,732.17 220.07,744.67 219.20,755.00 C218.33,765.33 216.95,780.00 216.50,785.00" fill="none" stroke="#111" stroke-width="1.45"/>
<path d="M215.10,797.90 L211.28,784.02 L221.24,784.88 Z" fill="#000" stroke="#000" stroke-width="0.7"/>
<path d="M222.6,484 C262,506 300.5,533 300.5,583 L300.9,800 L300.90,800.00 C300.88,802.00 301.08,806.37 300.80,812.00 C300.52,817.63 300.57,826.88 299.20,833.80 C297.83,840.72 295.88,846.93 292.60,853.50 C289.32,860.07 285.33,866.63 279.50,873.20 C273.67,879.77 264.90,887.43 257.60,892.90 C250.30,898.37 243.00,902.17 235.70,906.00 C228.40,909.83 220.58,913.02 213.80,915.90 C207.02,918.78 198.13,922.07 195.00,923.30" fill="none" stroke="#111" stroke-width="1.45"/>
<path d="M182.20,928.20 L193.07,918.76 L196.60,928.12 Z" fill="#000" stroke="#000" stroke-width="0.7"/>
<path d="M43.7,607.8 C37,660 36,740 50.7,812 C60,850 85,890 101,906" fill="none" stroke="#111" stroke-width="1.45"/>
<path d="M109.30,916.20 L96.95,908.81 L104.74,902.54 Z" fill="#000" stroke="#000" stroke-width="0.7"/>
<path d="M103.9,726.7 C85,770 75,820 87,850 C95,875 105,892 113,904" fill="none" stroke="#111" stroke-width="1.45"/>
<path d="M120.40,916.20 L109.18,907.18 L117.76,902.05 Z" fill="#000" stroke="#000" stroke-width="0.7"/>
<path d="M127.7,726.7 C140,755 155,775 169,788" fill="none" stroke="#111" stroke-width="1.45"/>
<path d="M180.20,797.90 L166.64,793.05 L173.07,785.39 Z" fill="#000" stroke="#000" stroke-width="0.7"/>
<path d="M196,845.4 L161.5,904" fill="none" stroke="#111" stroke-width="1.45"/>
<path d="M154.90,916.20 L157.37,902.02 L166.01,907.05 Z" fill="#000" stroke="#000" stroke-width="0.7"/>
<text x="58.2" y="530.0" class="el">0.24***</text>
<text x="58.2" y="648.0" class="el">0.18***</text>
<text x="157.1" y="589.0" class="el">0.14***</text>
<text x="226.6" y="649.2" class="el">-0.04</text>
<text x="301.5" y="707.5" class="el">0.2***</text>
<text x="45.3" y="768.3" class="el">-0.02</text>
<text x="86.2" y="827.0" class="el">0.18***</text>
<text x="156.5" y="767.7" class="el">0.61***</text>
<text x="182.8" y="886.5" class="el">-0.13**</text>
<rect x="488.4" y="437.0" width="73.1" height="48.2" fill="#fff" stroke="#111" stroke-width="1.5"/>
<rect x="393.3" y="556.0" width="83.6" height="48.0" fill="#fff" stroke="#111" stroke-width="1.5"/>
<rect x="484.8" y="673.3" width="84.3" height="51.0" fill="#fff" stroke="#111" stroke-width="1.5"/>
<rect x="482.1" y="793.0" width="117.4" height="51.7" fill="#fff" stroke="#111" stroke-width="1.5"/>
<rect x="533.7" y="911.8" width="81.7" height="48.0" fill="#fff" stroke="#111" stroke-width="1.5"/>
<text x="507.1" y="467.4" textLength="34.1" lengthAdjust="spacingAndGlyphs" class="na">BMI</text>
<text x="417.5" y="586.2" textLength="29.8" lengthAdjust="spacingAndGlyphs" class="nc">FPG</text>
<text x="495.7" y="694.2" textLength="50.5" lengthAdjust="spacingAndGlyphs" class="nc">Initial-</text>
<text x="495.7" y="717.0" textLength="65.4" lengthAdjust="spacingAndGlyphs" class="nc">Increase</text>
<text x="490.3" y="813.0" textLength="96.8" lengthAdjust="spacingAndGlyphs" class="nc">Subsequent-</text>
<text x="490.3" y="835.8" textLength="71.4" lengthAdjust="spacingAndGlyphs" class="nc">Decrease</text>
<text x="543.5" y="942.0" textLength="62.4" lengthAdjust="spacingAndGlyphs" class="na">LoHDP</text>
<path d="M488.4,475.2 C455,492 435,515 434.3,543" fill="none" stroke="#111" stroke-width="1.45"/>
<path d="M433.90,556.00 L429.24,542.38 L439.24,542.63 Z" fill="#000" stroke="#000" stroke-width="0.7"/>
<path d="M523.9,485.2 L521.1,660" fill="none" stroke="#111" stroke-width="1.45"/>
<path d="M520.90,673.30 L516.10,659.73 L526.10,659.88 Z" fill="#000" stroke="#000" stroke-width="0.7"/>
<path d="M561.5,485.2 C595,510 623.8,540 623.8,580 L623.9,812 L623.90,812.00 C623.90,814.42 624.05,821.65 623.90,826.50 C623.75,831.35 623.77,836.53 623.00,841.10 C622.23,845.67 620.98,849.33 619.30,853.90 C617.62,858.47 615.18,863.33 612.90,868.50 C610.62,873.67 607.88,879.73 605.60,884.90 C603.32,890.07 600.27,897.07 599.20,899.50" fill="none" stroke="#111" stroke-width="1.45"/>
<path d="M592.20,911.80 L594.09,897.53 L602.93,902.20 Z" fill="#000" stroke="#000" stroke-width="0.7"/>
<path d="M430.4,604 C430,640 445,668 472,678.5" fill="none" stroke="#111" stroke-width="1.45"/>
<path d="M484.80,683.80 L470.42,683.18 L474.29,673.96 Z" fill="#000" stroke="#000" stroke-width="0.7"/>
<path d="M423.30,604.00 C421.67,608.08 416.23,620.05 413.50,628.50 C410.77,636.95 408.53,645.58 406.90,654.70 C405.27,663.82 403.92,674.07 403.70,683.20 C403.48,692.33 404.00,701.47 405.60,709.50 C407.20,717.53 409.83,724.10 413.30,731.40 C416.77,738.70 421.28,746.73 426.40,753.30 C431.52,759.87 438.13,765.75 444.00,770.80 C449.87,775.85 457.10,780.65 461.60,783.60 C466.10,786.55 469.43,787.68 471.00,788.50" fill="none" stroke="#111" stroke-width="1.45"/>
<path d="M482.50,795.50 L468.35,792.84 L473.50,784.27 Z" fill="#000" stroke="#000" stroke-width="0.7"/>
<path d="M521.2,724.3 V780" fill="none" stroke="#111" stroke-width="1.45"/>
<path d="M521.20,793.00 L516.20,779.50 L526.20,779.50 Z" fill="#000" stroke="#000" stroke-width="0.7"/>
<path d="M528.3,844.7 C536,870 545,890 551,900" fill="none" stroke="#111" stroke-width="1.45"/>
<path d="M557.20,911.80 L546.35,902.34 L555.13,897.55 Z" fill="#000" stroke="#000" stroke-width="0.7"/>
<text x="445.9" y="526.7" class="el">0.24***</text>
<text x="439.7" y="645.2" class="el">-0.13***</text>
<text x="523.9" y="585.2" class="el">0.14***</text>
<text x="412.9" y="703.7" class="el">0.13***</text>
<text x="520.9" y="763.3" class="el">0.58***</text>
<text x="543.7" y="881.7" class="el">0.14***</text>
<text x="624.5" y="702.8" class="el">0.2***</text>
</svg>
</body></html>
